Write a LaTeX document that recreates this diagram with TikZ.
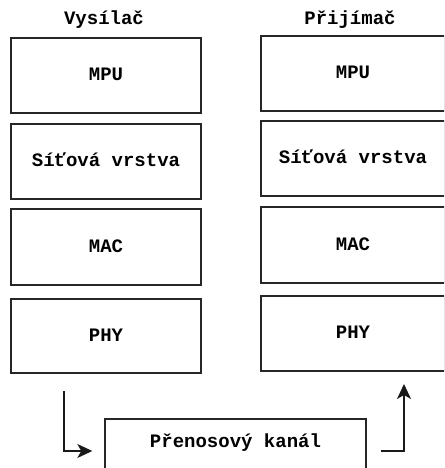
\documentclass[tikz,border=0pt]{standalone}
\usepackage{fontspec}
\setmonofont{Liberation Mono}
\usetikzlibrary{arrows.meta}
\tikzset{
  layerbox/.style={draw=black!85, line width=1.4pt, minimum height=75pt, inner sep=0pt,
    font=\ttfamily\bfseries\fontsize{19}{21}\selectfont, text height=11pt, text depth=0pt},
  lbox/.style={layerbox, minimum width=190pt},
  rbox/.style={layerbox, minimum width=184pt},
  title/.style={font=\ttfamily\bfseries\fontsize{19}{21}\selectfont, anchor=base, inner sep=0pt},
  conn/.style={line width=1.3pt, draw=black!90, -{Stealth[length=15pt,width=14pt,inset=4pt]}}
}
\begin{document}
\begin{tikzpicture}[x=1pt,y=1pt]
\useasboundingbox (0,0) rectangle (444,468);
\clip (0,0) rectangle (444,468);
\fill[white] (0,0) rectangle (444,468);
% titles
\node[title] (tl) at (104,443) {Vysílač};
\node[title] (tr) at (350,443) {Přijímač};
% left column
\node[lbox] (l1) at (106,392.5) {MPU};
\node[lbox] (l2) at (106,306.5) {Síťová vrstva};
\node[lbox, minimum height=76pt] (l3) at (106,221) {MAC};
\node[lbox, minimum height=74pt] (l4) at (106,132) {PHY};
% right column
\node[rbox] (r1) at (353,394.5) {MPU};
\node[rbox] (r2) at (353,309.5) {Síťová vrstva};
\node[rbox, minimum height=76pt] (r3) at (353,223) {MAC};
\node[rbox] (r4) at (353,134.5) {PHY};
% channel
\node[layerbox, minimum width=261pt, minimum height=64pt, text height=12pt, text depth=18pt] (ch) at (235.5,17) {Přenosový kanál};
% connectors
\coordinate (a1) at (64,77);
\coordinate (a2) at ([xshift=-12pt]ch.west);
\coordinate (b1) at ([xshift=14pt]ch.east);
\coordinate (b2) at (404,84);
\draw[conn] (a1) |- (a2);
\draw[conn] (b1) -| (b2);
\end{tikzpicture}
\end{document}
